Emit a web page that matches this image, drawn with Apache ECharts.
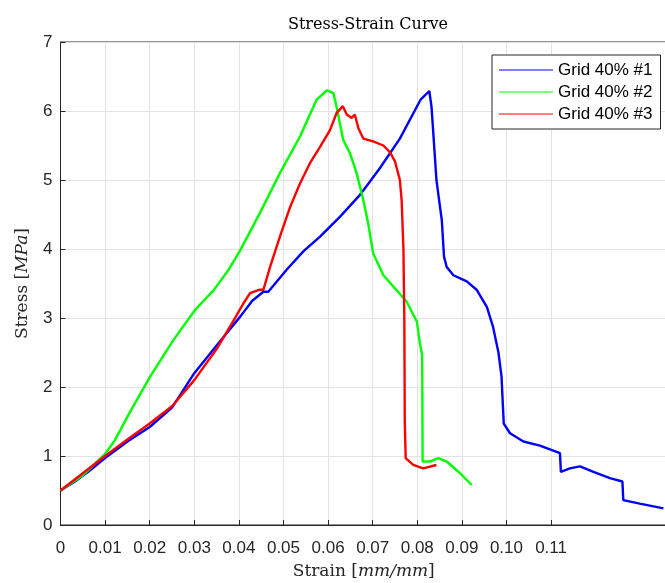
<!DOCTYPE html>
<html>
<head>
<meta charset="utf-8">
<script src="https://cdn.jsdelivr.net/npm/echarts@6/dist/echarts.min.js"></script>
<style>
  html, body { margin: 0; padding: 0; background: #fff; }
  #chart { width: 665px; height: 583px; }
</style>
</head>
<body>
<div id="chart"></div>
<script>
// Strain [mm/mm] vs stress [MPa] for three 40% grid specimens
const seriesNames = ['Grid 40% #1', 'Grid 40% #2', 'Grid 40% #3'];

const grid1 = [
  [0, 0.50], [0.003, 0.62], [0.006, 0.76], [0.010, 0.97], [0.015, 1.21], [0.020, 1.42],
  [0.025, 1.70], [0.030, 2.20], [0.035, 2.60], [0.0403, 3.02], [0.043, 3.25], [0.0455, 3.38],
  [0.0466, 3.38], [0.0507, 3.70], [0.0545, 3.97], [0.0582, 4.18], [0.0627, 4.47], [0.0671, 4.78],
  [0.0716, 5.17], [0.0761, 5.60], [0.0807, 6.16], [0.0827, 6.29], [0.0832, 6.06], [0.0843, 5.00],
  [0.0851, 4.61], [0.0855, 4.42], [0.0860, 3.89], [0.0866, 3.74], [0.0881, 3.62], [0.0911, 3.53],
  [0.0933, 3.41], [0.0956, 3.16], [0.0970, 2.87], [0.0982, 2.50], [0.0989, 2.15], [0.0991, 1.86],
  [0.0994, 1.47], [0.1008, 1.33], [0.1038, 1.21], [0.1075, 1.15], [0.1120, 1.04], [0.1122, 0.77],
  [0.1142, 0.82], [0.1165, 0.85], [0.1195, 0.77], [0.1232, 0.68], [0.1260, 0.63], [0.1262, 0.36],
  [0.1299, 0.31], [0.1352, 0.24]
];

const grid2 = [
  [0, 0.50], [0.005, 0.72], [0.010, 1.03], [0.0122, 1.23], [0.0156, 1.64], [0.0201, 2.15],
  [0.0253, 2.68], [0.0302, 3.12], [0.0343, 3.40], [0.0375, 3.68], [0.0402, 3.97], [0.0447, 4.52],
  [0.0492, 5.10], [0.0537, 5.63], [0.0574, 6.16], [0.0597, 6.30], [0.0612, 6.26], [0.0619, 6.06],
  [0.0634, 5.58], [0.0649, 5.39], [0.0664, 5.10], [0.0679, 4.71], [0.0690, 4.37], [0.0701, 3.94],
  [0.0724, 3.62], [0.0754, 3.40], [0.0776, 3.24], [0.0799, 2.95], [0.0806, 2.63], [0.0811, 2.46],
  [0.0812, 0.92], [0.0828, 0.92], [0.0847, 0.97], [0.0866, 0.92], [0.0896, 0.75], [0.0922, 0.58]
];

const grid3 = [
  [0, 0.50], [0.005, 0.75], [0.010, 1.00], [0.015, 1.24], [0.020, 1.47], [0.025, 1.72],
  [0.030, 2.10], [0.035, 2.55], [0.0387, 2.95], [0.041, 3.21], [0.0425, 3.36], [0.0447, 3.41],
  [0.0455, 3.41], [0.047, 3.74], [0.0492, 4.18], [0.0515, 4.61], [0.0537, 4.95], [0.0559, 5.24],
  [0.0582, 5.48], [0.0604, 5.72], [0.0619, 5.97], [0.0633, 6.07], [0.0642, 5.95], [0.0653, 5.90],
  [0.0660, 5.95], [0.0668, 5.75], [0.0679, 5.60], [0.0701, 5.56], [0.0724, 5.50], [0.0739, 5.40],
  [0.0750, 5.27], [0.0761, 5.00], [0.0765, 4.70], [0.0769, 4.00], [0.0771, 2.97], [0.0772, 1.50],
  [0.0774, 0.97], [0.0791, 0.87], [0.0813, 0.82], [0.0843, 0.87]
];

const xTicks = [0, 0.01, 0.02, 0.03, 0.04, 0.05, 0.06, 0.07, 0.08, 0.09, 0.10, 0.11];
const xTickLabels = ['0', '0.01', '0.02', '0.03', '0.04', '0.05', '0.06', '0.07', '0.08', '0.09', '0.10', '0.11'];
const yTicks = [0, 1, 2, 3, 4, 5, 6, 7];

const colors = ['#0000ff', '#00ff00', '#ff0000'];
const axisColor = '#262626';
const gridColor = '#e3e3e3';
const sans = '"Liberation Sans", Arial, sans-serif';
const serif = '"DejaVu Serif", serif';

const chart = echarts.init(document.getElementById('chart'), null, { renderer: 'canvas' });

const lineSeries = [grid1, grid2, grid3].map((d, i) => ({
  name: seriesNames[i],
  type: 'line',
  data: d,
  symbol: 'none',
  showSymbol: false,
  animation: false,
  lineStyle: { color: colors[i], width: 2.4 },
  itemStyle: { color: colors[i] },
  z: 2 + i
}));

chart.setOption({
  animation: false,
  backgroundColor: '#fff',
  title: {
    text: 'Stress-Strain Curve',
    left: 363,
    top: 12,
    textAlign: 'center',
    textStyle: { fontFamily: serif, fontSize: 16, fontWeight: 'normal', color: '#000' }
  },
  legend: {
    orient: 'vertical',
    left: 492,
    top: 55,
    width: 170,
    padding: [6, 8, 6, 7],
    itemWidth: 54,
    itemHeight: 1.2,
    itemGap: 4,
    icon: 'rect',
    backgroundColor: '#fff',
    borderColor: axisColor,
    borderWidth: 1,
    borderRadius: 0,
    data: seriesNames.map((n, i) => ({ name: n, itemStyle: { color: colors[i] } })),
    textStyle: { fontFamily: sans, fontSize: 17, color: '#000', lineHeight: 18 }
  },
  grid: {
    left: 60.5,
    right: -2,
    top: 42,
    bottom: 58,
    outerBoundsMode: 'none',
    containLabel: false,
    show: true,
    borderColor: axisColor,
    borderWidth: 1,
    backgroundColor: 'transparent'
  },
  xAxis: {
    type: 'value',
    min: 0,
    max: 0.136,
    name: '{n|Strain }{n|[}{i|mm/mm}{n|]}',
    nameLocation: 'middle',
    nameGap: 38,
    nameTextStyle: {
      rich: {
        n: { fontFamily: serif, fontSize: 17, color: '#262626' },
        i: { fontFamily: serif, fontSize: 17, fontStyle: 'italic', color: '#262626' }
      }
    },
    axisLine: { show: true, lineStyle: { color: axisColor, width: 1 } },
    axisTick: { show: true, inside: true, length: 5, customValues: xTicks, lineStyle: { color: axisColor } },
    axisLabel: {
      customValues: xTicks,
      formatter: v => {
        const k = xTicks.findIndex(t => Math.abs(t - v) < 1e-9);
        return k >= 0 ? xTickLabels[k] : '';
      },
      margin: 15,
      fontFamily: sans,
      fontSize: 17,
      color: '#262626'
    },
    splitLine: { show: true, lineStyle: { color: gridColor, width: 1 } }
  },
  yAxis: {
    type: 'value',
    min: 0,
    max: 7,
    interval: 1,
    name: '{n|Stress }{n|[}{i|MPa}{n|]}',
    nameLocation: 'middle',
    nameGap: 29,
    nameRotate: 90,
    nameTextStyle: {
      rich: {
        n: { fontFamily: serif, fontSize: 17, color: '#262626' },
        i: { fontFamily: serif, fontSize: 17, fontStyle: 'italic', color: '#262626' }
      }
    },
    axisLine: { show: true, lineStyle: { color: axisColor, width: 1 } },
    axisTick: { show: true, inside: true, length: 5, lineStyle: { color: axisColor } },
    axisLabel: {
      formatter: v => (yTicks.indexOf(v) >= 0 ? String(v) : ''),
      margin: 8,
      fontFamily: sans,
      fontSize: 17,
      color: '#262626'
    },
    splitLine: { show: true, lineStyle: { color: gridColor, width: 1 } }
  },
  series: lineSeries
});
</script>
</body>
</html>
